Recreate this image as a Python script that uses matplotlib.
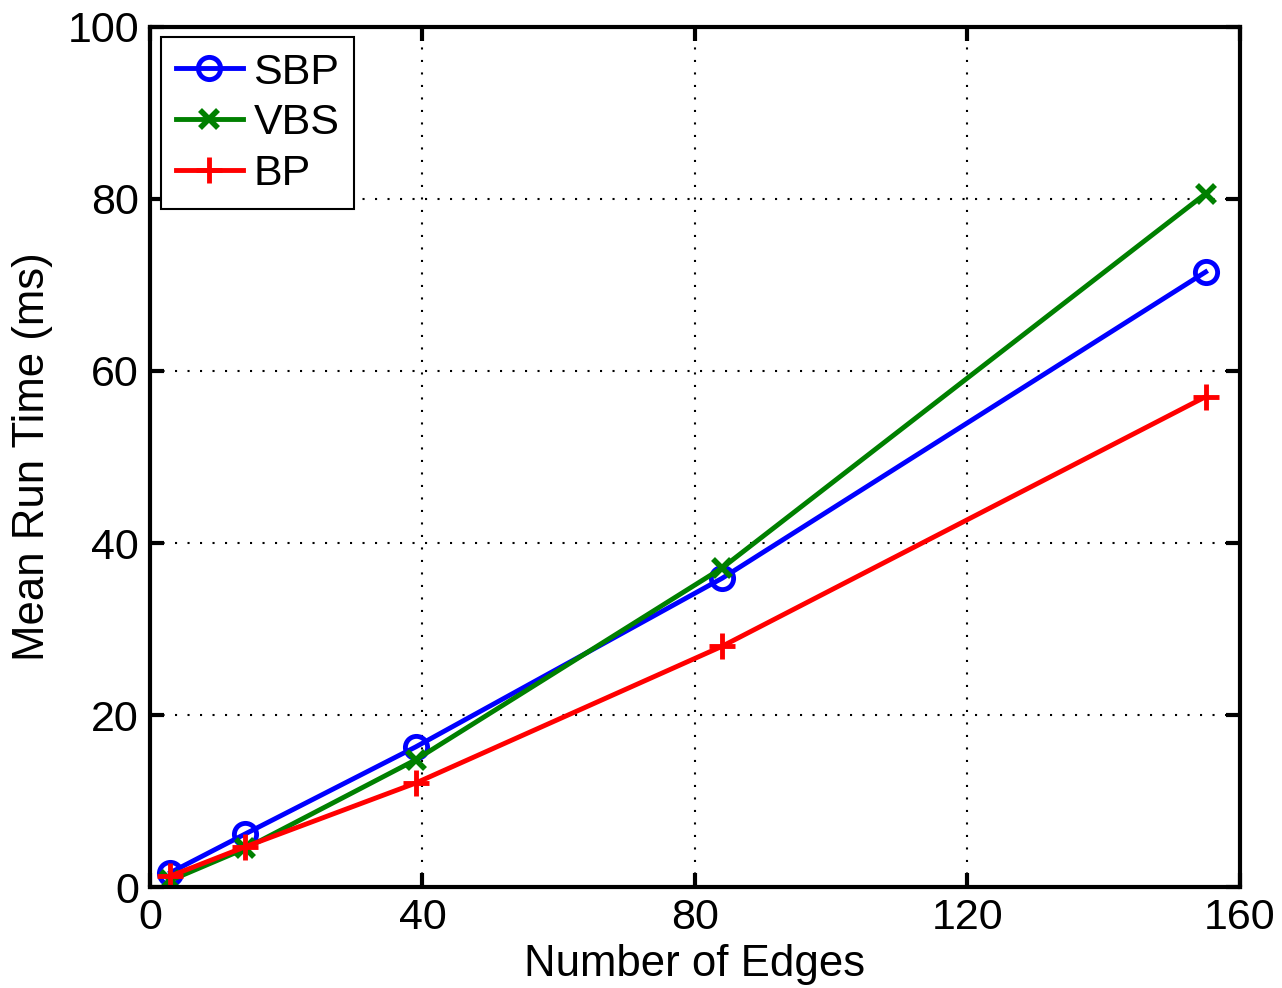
import matplotlib
matplotlib.use("Agg")
import matplotlib.pyplot as plt

plt.rcParams['font.family'] = ['Liberation Sans', 'DejaVu Sans']

edges = [3, 14, 39, 84, 155]
sbp = [1.7, 6.2, 16.3, 35.9, 71.5]
vbs = [0.8, 4.5, 14.8, 37.1, 80.6]
bp = [1.3, 4.7, 12.1, 28.0, 57.0]

fig = plt.figure(figsize=(12.82, 9.88), dpi=100)
ax = fig.add_axes([0.117, 0.102, 0.850, 0.871])

ax.plot(edges, sbp, color='#0000ff', lw=3.5, marker='o', ms=16, mfc='none', mew=3.5, label='SBP')
ax.plot(edges, vbs, color='#008000', lw=3.5, marker='x', ms=13, mew=4, label='VBS')
ax.plot(edges, bp, color='#ff0000', lw=3.5, marker='+', ms=19, mew=3.5, label='BP')

ax.set_xlim(0, 160)
ax.set_ylim(0, 100)
ax.set_xticks([0, 40, 80, 120, 160])
ax.set_yticks([0, 20, 40, 60, 80, 100])
ax.grid(True, color='black', linestyle=(0, (1, 5)), linewidth=1.5)
ax.tick_params(direction='in', length=10, width=3, labelsize=31, top=True, right=True, pad=8)
for s in ax.spines.values():
    s.set_linewidth(3)

ax.set_xlabel('Number of Edges', fontsize=31.5, labelpad=4)
ax.set_ylabel('Mean Run Time (ms)', fontsize=31.5, labelpad=10)

leg = ax.legend(loc='upper left', fontsize=31, fancybox=False, edgecolor='black',
                handlelength=1.55, handletextpad=0.25, borderpad=0.35, labelspacing=0.25,
                borderaxespad=0.25, framealpha=1)
leg.get_frame().set_linewidth(1.5)

fig.savefig('out.png', dpi=100)
